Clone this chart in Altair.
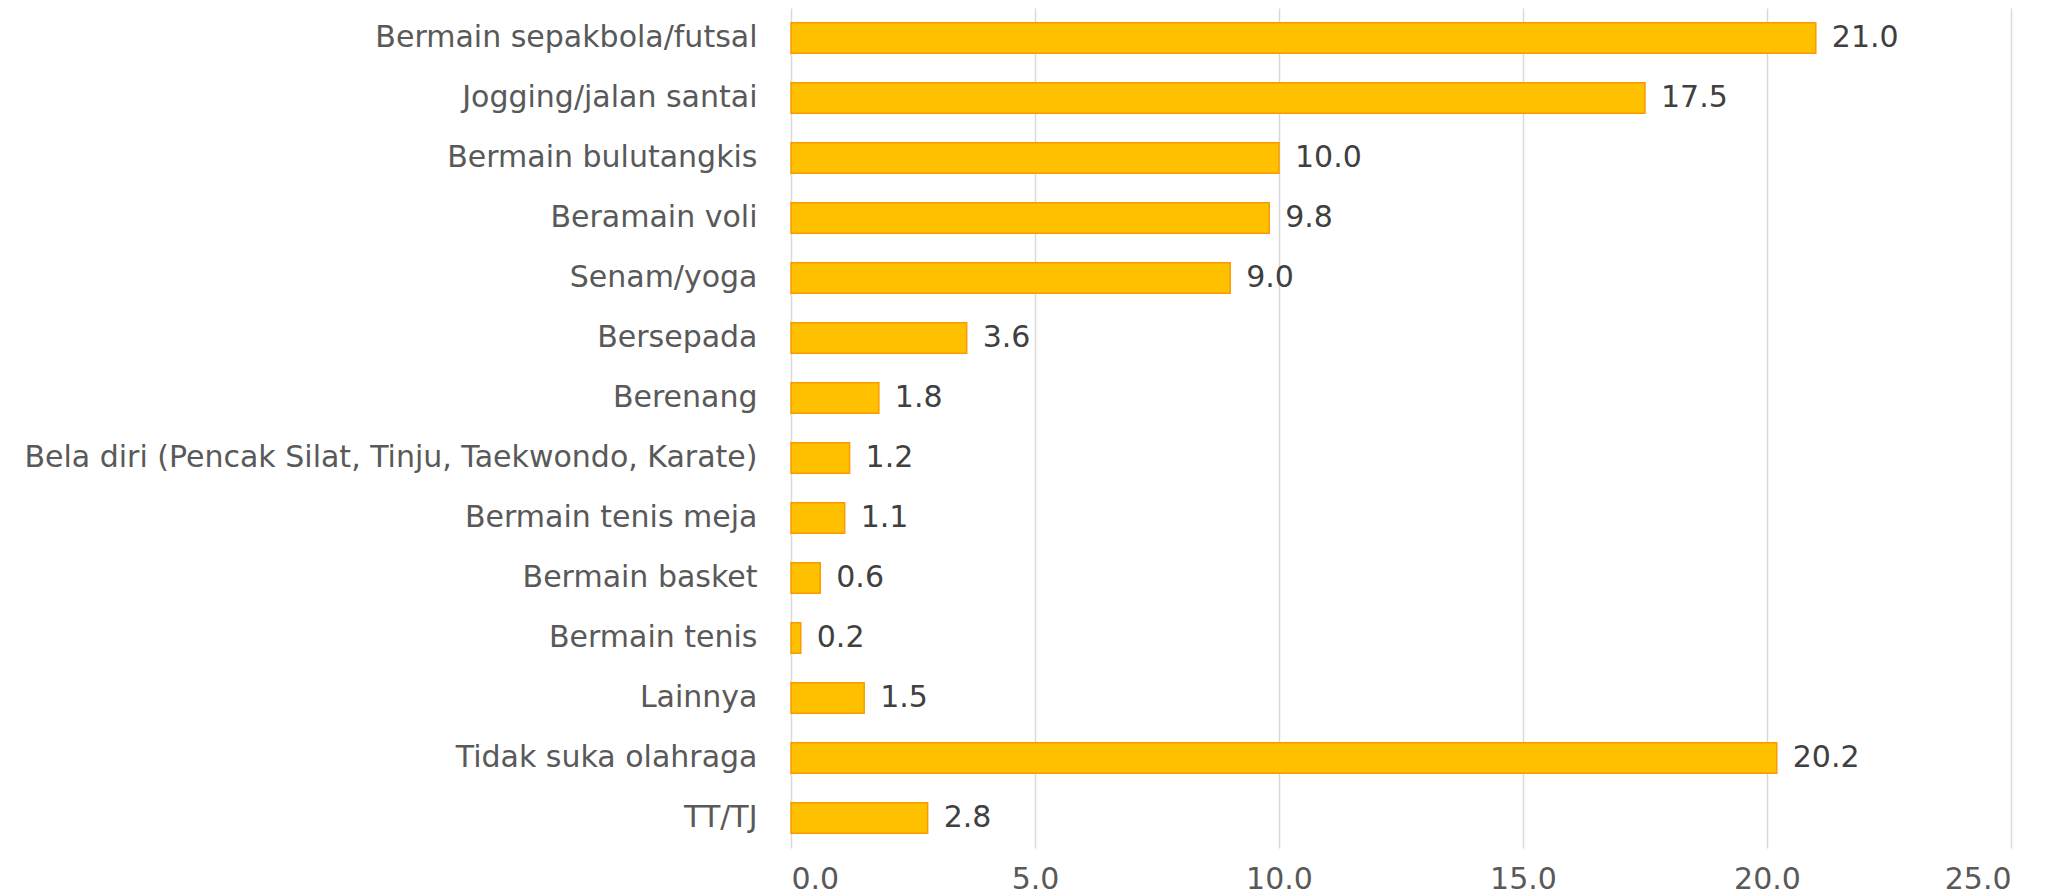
import altair as alt
import pandas as pd

categories = [
    "Bermain sepakbola/futsal",
    "Jogging/jalan santai",
    "Bermain bulutangkis",
    "Beramain voli",
    "Senam/yoga",
    "Bersepada",
    "Berenang",
    "Bela diri (Pencak Silat, Tinju, Taekwondo, Karate)",
    "Bermain tenis meja",
    "Bermain basket",
    "Bermain tenis",
    "Lainnya",
    "Tidak suka olahraga",
    "TT/TJ",
]
values = [21.0, 17.5, 10.0, 9.8, 9.0, 3.6, 1.8, 1.2, 1.1, 0.6, 0.2, 1.5, 20.2, 2.8]
x_ticks = [0, 5, 10, 15, 20, 25]

df = pd.DataFrame({"kategori": categories, "nilai": values})

FONT = "DejaVu Sans"

y_enc = alt.Y(
    "kategori:N",
    sort=categories,
    title=None,
    scale=alt.Scale(paddingInner=0.49, paddingOuter=0.245),
    axis=alt.Axis(
        ticks=False,
        tickSize=0,
        domain=False,
        grid=False,
        labelPadding=34,
        labelFont=FONT,
        labelFontSize=30,
        labelColor="#595959",
        labelLimit=1000,
        minExtent=778,
        maxExtent=778,
    ),
)
x_enc = alt.X(
    "nilai:Q",
    title=None,
    scale=alt.Scale(domain=[0, 25], nice=False),
    axis=alt.Axis(
        values=x_ticks,
        format=".1f",
        ticks=False,
        tickSize=0,
        domain=False,
        grid=True,
        gridColor="#D9D9D9",
        gridWidth=1.5,
        labelPadding=16,
        labelFont=FONT,
        labelFontSize=30,
        labelColor="#595959",
    ),
)

bars = alt.Chart(df).mark_bar(
    color="#FFC000", stroke="#F99A00", strokeWidth=1.5
).encode(x=x_enc, y=y_enc)

labels = alt.Chart(df).mark_text(
    align="left", baseline="middle", dx=16, font=FONT, fontSize=30, color="#404040"
).encode(
    x=alt.X("nilai:Q", scale=alt.Scale(domain=[0, 25], nice=False)),
    y=alt.Y("kategori:N", sort=categories),
    text=alt.Text("nilai:Q", format=".1f"),
)

chart = (
    alt.layer(bars, labels)
    .properties(
        width=1220,
        height=840,
        padding={"left": 5, "top": 0, "right": 5, "bottom": 0},
        background="white",
    )
    .configure_view(stroke=None)
)

chart.save("out.html", embed_options={"renderer": "svg", "actions": False})
